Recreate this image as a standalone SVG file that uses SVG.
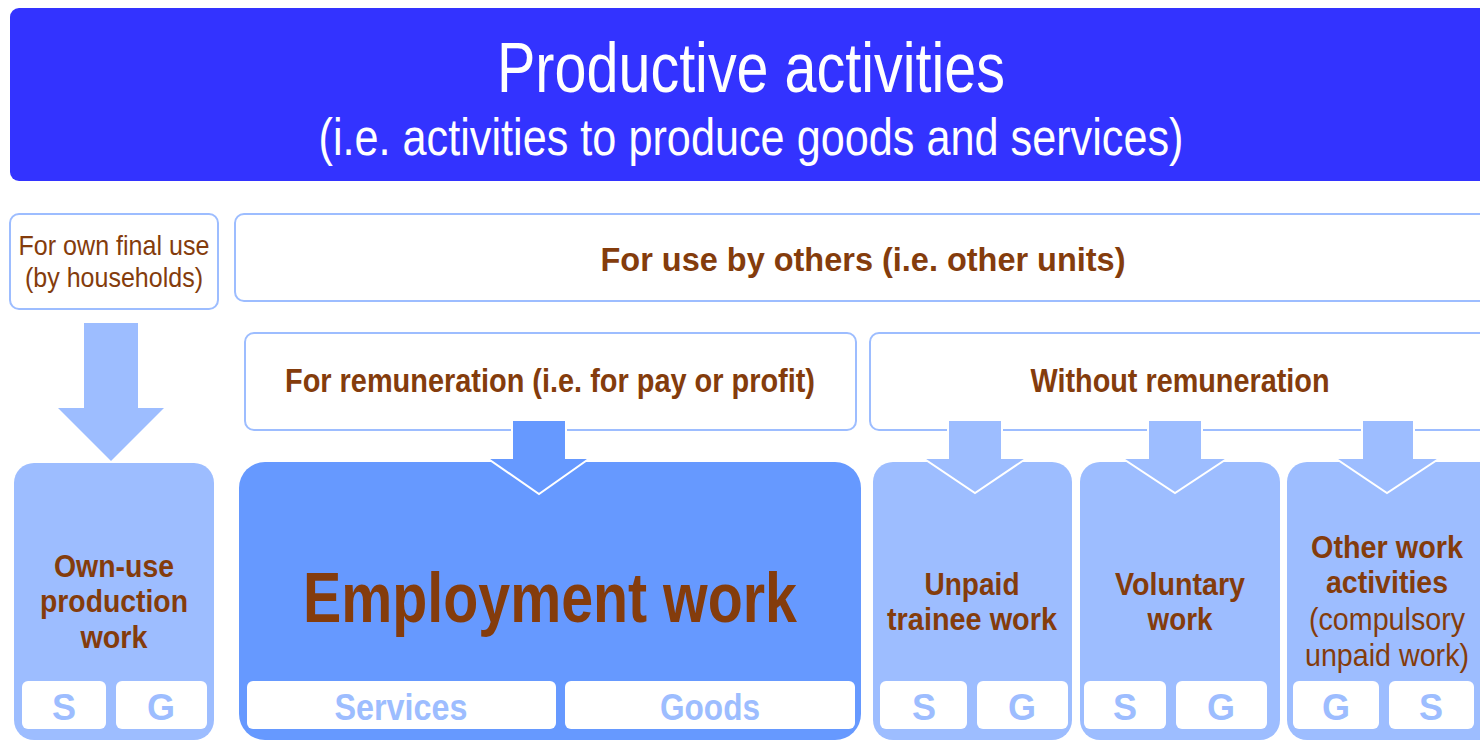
<svg xmlns="http://www.w3.org/2000/svg" width="1480" height="740" viewBox="0 0 1480 740">
<style>
.t{font-family:"Liberation Sans Narrow","Arial Narrow","Liberation Sans",Arial,sans-serif;text-anchor:middle}
.b{font-weight:bold}
.br{fill:#843c0c}
.hdr{fill:#ffffff;stroke:#9dbdff;stroke-width:2}
.lt{fill:#9dbdff}
.dk{fill:#6699ff}
.sub{fill:#ffffff}
.sg{fill:#9dbdff;font-weight:bold;font-size:36px}
.arr{stroke:#ffffff;stroke-width:2;stroke-linejoin:miter}
</style>
<rect width="1480" height="740" fill="#ffffff"/>
<g id="title">
<rect x="10" y="8" width="1500" height="173" rx="9" fill="#3333ff"/>
<text class="t" x="751" y="92" font-size="70" fill="#ffffff" textLength="508" lengthAdjust="spacingAndGlyphs">Productive activities</text>
<text class="t" x="751" y="155" font-size="52" fill="#ffffff" textLength="865" lengthAdjust="spacingAndGlyphs">(i.e. activities to produce goods and services)</text>
</g>
<g id="own-final-use">
<rect class="hdr" x="10" y="214" width="208" height="95" rx="9"/>
<text class="t br" x="114" y="255" font-size="28" textLength="191" lengthAdjust="spacingAndGlyphs">For own final use</text>
<text class="t br" x="114" y="287" font-size="28" textLength="178" lengthAdjust="spacingAndGlyphs">(by households)</text>
</g>
<g id="use-by-others">
<rect class="hdr" x="235" y="214" width="1270" height="87" rx="9"/>
<text class="t b br" x="863" y="271" font-size="34" textLength="525" lengthAdjust="spacingAndGlyphs">For use by others (i.e. other units)</text>
</g>
<g id="for-remuneration">
<rect class="hdr" x="245" y="333" width="611" height="97" rx="9"/>
<text class="t b br" x="550" y="392" font-size="33" textLength="530" lengthAdjust="spacingAndGlyphs">For remuneration (i.e. for pay or profit)</text>
</g>
<g id="without-remuneration">
<rect class="hdr" x="870" y="333" width="640" height="97" rx="9"/>
<text class="t b br" x="1180" y="392" font-size="33" textLength="299" lengthAdjust="spacingAndGlyphs">Without remuneration</text>
</g>
<g id="own-use-production-work">
<rect class="lt" x="14" y="463" width="200" height="277" rx="20"/>
<text class="t b br" x="114" y="577" font-size="32" textLength="120" lengthAdjust="spacingAndGlyphs">Own-use</text>
<text class="t b br" x="114" y="612" font-size="32" textLength="148" lengthAdjust="spacingAndGlyphs">production</text>
<text class="t b br" x="114" y="648" font-size="32" textLength="67" lengthAdjust="spacingAndGlyphs">work</text>
<rect class="sub" x="22" y="681" width="84" height="48" rx="6"/>
<rect class="sub" x="116" y="681" width="91" height="48" rx="6"/>
<text class="t sg" x="64" y="720">S</text>
<text class="t sg" x="161" y="720">G</text>
</g>
<g id="employment-work">
<rect class="dk" x="239" y="462" width="622" height="278" rx="26"/>
<text class="t b br" x="550" y="622" font-size="70" textLength="494" lengthAdjust="spacingAndGlyphs">Employment work</text>
<rect class="sub" x="247" y="681" width="309" height="48" rx="6"/>
<rect class="sub" x="565" y="681" width="290" height="48" rx="6"/>
<text class="t sg" x="401" y="720" textLength="133" lengthAdjust="spacingAndGlyphs">Services</text>
<text class="t sg" x="710" y="720" textLength="100" lengthAdjust="spacingAndGlyphs">Goods</text>
</g>
<g id="unpaid-trainee-work">
<rect class="lt" x="873" y="462" width="199" height="278" rx="20"/>
<text class="t b br" x="972" y="595" font-size="32" textLength="95" lengthAdjust="spacingAndGlyphs">Unpaid</text>
<text class="t b br" x="972" y="630" font-size="32" textLength="170" lengthAdjust="spacingAndGlyphs">trainee work</text>
<rect class="sub" x="880" y="681" width="87" height="48" rx="6"/>
<rect class="sub" x="977" y="681" width="91" height="48" rx="6"/>
<text class="t sg" x="924" y="720">S</text>
<text class="t sg" x="1022" y="720">G</text>
</g>
<g id="voluntary-work">
<rect class="lt" x="1080" y="462" width="200" height="278" rx="20"/>
<text class="t b br" x="1180" y="595" font-size="32" textLength="130" lengthAdjust="spacingAndGlyphs">Voluntary</text>
<text class="t b br" x="1180" y="630" font-size="32" textLength="65" lengthAdjust="spacingAndGlyphs">work</text>
<rect class="sub" x="1084" y="681" width="82" height="48" rx="6"/>
<rect class="sub" x="1176" y="681" width="91" height="48" rx="6"/>
<text class="t sg" x="1125" y="720">S</text>
<text class="t sg" x="1221" y="720">G</text>
</g>
<g id="other-work-activities">
<rect class="lt" x="1287" y="462" width="220" height="278" rx="20"/>
<text class="t b br" x="1387" y="558" font-size="32" textLength="152" lengthAdjust="spacingAndGlyphs">Other work</text>
<text class="t b br" x="1387" y="593" font-size="32" textLength="122" lengthAdjust="spacingAndGlyphs">activities</text>
<text class="t br" x="1387" y="630" font-size="32" textLength="156" lengthAdjust="spacingAndGlyphs">(compulsory</text>
<text class="t br" x="1387" y="666" font-size="32" textLength="164" lengthAdjust="spacingAndGlyphs">unpaid work)</text>
<rect class="sub" x="1293" y="681" width="86" height="48" rx="6"/>
<rect class="sub" x="1389" y="681" width="85" height="48" rx="6"/>
<text class="t sg" x="1336" y="720">G</text>
<text class="t sg" x="1431" y="720">S</text>
</g>
<g id="connectors">
<polygon fill="#9dbdff" points="84,323 138,323 138,408 164,408 111,461 58,408 84,408"/>
<polygon class="arr" fill="#6699ff" points="512,420 566,420 566,458 590,458 539,494 487,458 512,458"/>
<polygon class="arr" fill="#9dbdff" points="948,420 1002,420 1002,458 1027,458 975,493 923,458 948,458"/>
<polygon class="arr" fill="#9dbdff" points="1148,420 1202,420 1202,458 1228,458 1175,493 1122,458 1148,458"/>
<polygon class="arr" fill="#9dbdff" points="1362,420 1414,420 1414,458 1440,458 1387,493 1335,458 1362,458"/>
</g>
</svg>
